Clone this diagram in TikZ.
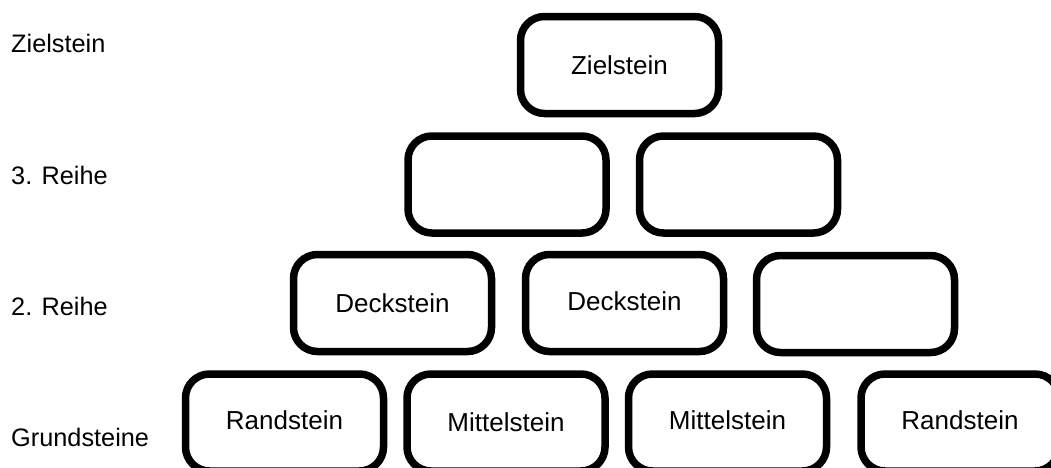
\documentclass[tikz,border=0pt]{standalone}
\usepackage{fontspec}
\setmainfont{Liberation Sans}
\begin{document}
\begin{tikzpicture}[x=1pt,y=-1pt,
  stein/.style={draw=black,line width=7.5pt,rounded corners=24pt,
    minimum width=198pt,minimum height=97pt,inner sep=0pt,
    font=\fontsize{26}{31}\selectfont},
  rowlabel/.style={anchor=west,inner sep=0pt,font=\fontsize{25.3}{30}\selectfont}]
\useasboundingbox (0,0) rectangle (1051,467);
\clip (0,0) rectangle (1051,467);
% row labels
\node[rowlabel] (lz) at (11,43) {Zielstein};
\node[rowlabel] (l3) at (11,175) {3. Reihe};
\node[rowlabel] (l2) at (11,306) {2. Reihe};
\node[rowlabel] (l1) at (11,437) {Grundsteine};
% Zielstein
\node[stein] (z) at (619.5,65) {Zielstein};
% 3. Reihe
\node[stein] (r31) at (507,184.5) {};
\node[stein] (r32) at (738.5,184.5) {};
% 2. Reihe
\node[stein] (r21) at (392.5,303) {Deckstein};
\node[stein] (r22) at (624.5,303) {\raisebox{4pt}{Deckstein}};
\node[stein] (r23) at (855.5,304) {};
% Grundsteine
\node[stein] (g1) at (284.5,422.5) {\raisebox{4pt}{Randstein}};
\node[stein] (g2) at (506,422.5) {Mittelstein};
\node[stein] (g3) at (727.5,422.5) {\raisebox{4pt}{Mittelstein}};
\node[stein] (g4) at (960,422.5) {\raisebox{4pt}{Randstein}};
\end{tikzpicture}
\end{document}
